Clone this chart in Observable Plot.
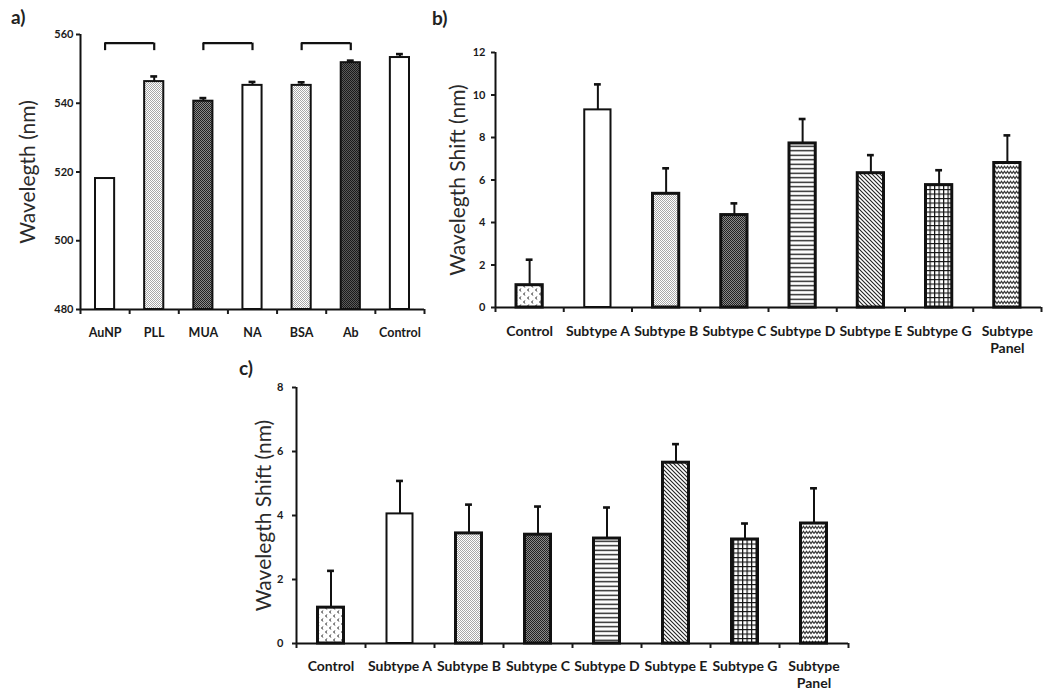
<!DOCTYPE html>
<html>
<head>
<meta charset="utf-8">
<script src="https://cdn.jsdelivr.net/npm/d3@7"></script>
<script src="https://cdn.jsdelivr.net/npm/@observablehq/plot@0.6"></script>
<style>
  body { margin: 0; background: #fff; }
  #root { position: relative; width: 1050px; height: 690px; font-family: Lato, "Open Sans", sans-serif; background: #fff; overflow: hidden; }
  .plabel { position: absolute; font: bold 19px Lato, sans-serif; color: #222; line-height: 19px; }
  g[aria-label$="tick label"] { font-weight: 700; }
</style>
</head>
<body>
<svg width="0" height="0" style="position:absolute">
  <defs>
    <pattern id="pLight" width="2" height="2" patternUnits="userSpaceOnUse">
      <rect width="2" height="2" fill="#fff"/>
      <rect x="0" y="0" width="1" height="1" fill="#a8a8a8"/>
      <rect x="1" y="1" width="1" height="1" fill="#a8a8a8"/>
    </pattern>
    <pattern id="pDark" width="2" height="2" patternUnits="userSpaceOnUse">
      <rect width="2" height="2" fill="#8a8a8a"/>
      <rect x="0" y="0" width="1" height="1" fill="#222"/>
      <rect x="1" y="1" width="1" height="1" fill="#222"/>
    </pattern>
    <pattern id="pAb" width="2" height="2" patternUnits="userSpaceOnUse">
      <rect width="2" height="2" fill="#5a5a5a"/>
      <rect x="0" y="0" width="1" height="1" fill="#1a1a1a"/>
      <rect x="1" y="1" width="1" height="1" fill="#1a1a1a"/>
    </pattern>
    <pattern id="pCtrl" width="8" height="8" patternUnits="userSpaceOnUse">
      <rect width="8" height="8" fill="#fff"/>
      <path d="M3.2,0.6 L1.4,2 L3.2,3.4 M7.2,4.6 L5.4,6 L7.2,7.4" fill="none" stroke="#333" stroke-width="1"/>
    </pattern>
    <pattern id="pHoriz" width="4" height="4.5" patternUnits="userSpaceOnUse">
      <rect width="4" height="4.5" fill="#fff"/>
      <path d="M0,2.25 H4" stroke="#111" stroke-width="1.3"/>
    </pattern>
    <pattern id="pDiag" width="4" height="4" patternUnits="userSpaceOnUse">
      <rect width="4" height="4" fill="#fff"/>
      <path d="M-1,-1 L5,5 M-1,3 L1,5 M3,-1 L5,1" stroke="#222" stroke-width="1.1"/>
    </pattern>
    <pattern id="pGrid" width="4.5" height="4.5" patternUnits="userSpaceOnUse">
      <rect width="4.5" height="4.5" fill="#fff"/>
      <path d="M0,0.6 H4.5 M0.6,0 V4.5" stroke="#111" stroke-width="1.2"/>
    </pattern>
    <pattern id="pZig" width="6" height="5" patternUnits="userSpaceOnUse">
      <rect width="6" height="5" fill="#fff"/>
      <path d="M0,3.6 L1.5,1.2 L3,3.6 L4.5,1.2 L6,3.6" fill="none" stroke="#333" stroke-width="1.1"/>
    </pattern>
  </defs>
</svg>
<div id="root">
  <div class="plabel" style="left:11px; top:7px;">a)</div>
  <div class="plabel" style="left:432px; top:8px;">b)</div>
  <div class="plabel" style="left:239px; top:358px;">c)</div>
</div>
<script>
// ---------- Data ----------
const aCategories = ["AuNP", "PLL", "MUA", "NA", "BSA", "Ab", "Control"];
const aValues = [518.1, 546.3, 540.6, 545.2, 545.2, 551.8, 553.3];
const aErrors = [0, 1.5, 0.9, 1.0, 0.9, 0.6, 1.0];
const aTicks = [480, 500, 520, 540, 560];
const aDomain = [480, 560];
const aBracketPairs = [["AuNP", "PLL"], ["MUA", "NA"], ["BSA", "Ab"]];
const aBracketLevel = 557.5;
const aBracketDrop = 2.2;

const subtypeCategories = ["Control", "Subtype A", "Subtype B", "Subtype C", "Subtype D", "Subtype E", "Subtype G", "Subtype Panel"];

const bValues = [1.05, 9.3, 5.35, 4.35, 7.72, 6.32, 5.76, 6.8];
const bErrors = [1.2, 1.2, 1.2, 0.55, 1.15, 0.85, 0.7, 1.3];
const bTicks = [0, 2, 4, 6, 8, 10, 12];
const bDomain = [0, 12];

const cValues = [1.12, 4.05, 3.44, 3.4, 3.28, 5.65, 3.25, 3.75];
const cErrors = [1.15, 1.03, 0.9, 0.88, 0.97, 0.58, 0.5, 1.1];
const cTicks = [0, 2, 4, 6, 8];
const cDomain = [0, 8];

// ---------- Styles ----------
const aFills = {AuNP: "#fff", PLL: "url(#pLight)", MUA: "url(#pDark)", NA: "#fff", BSA: "url(#pLight)", Ab: "url(#pAb)", Control: "#fff"};
const subFills = {
  "Control": "url(#pCtrl)", "Subtype A": "#fff", "Subtype B": "url(#pLight)", "Subtype C": "url(#pDark)",
  "Subtype D": "url(#pHoriz)", "Subtype E": "url(#pDiag)", "Subtype G": "url(#pGrid)", "Subtype Panel": "url(#pZig)"
};

function panel(o) {
  const n = o.cats.length;
  const rows = o.cats.map((c, i) => ({i, cat: c, value: o.values[i], err: o.errors[i]}));
  const errRows = rows.filter(d => d.err > 0);
  const plot = Plot.plot({
    width: o.width, height: o.height,
    marginLeft: o.ml, marginRight: o.mr, marginTop: o.mt, marginBottom: o.mb,
    style: {background: "transparent", overflow: "visible", fontFamily: "Lato, sans-serif", color: "#1a1a1a"},
    x: {type: "linear", domain: [0, n], label: null},
    y: {domain: o.domain, label: null},
    color: {type: "identity"},
    marks: [
      Plot.rect(rows, {
        x1: "i", x2: d => d.i + 1, y1: o.domain[0], y2: "value",
        insetLeft: o.inset, insetRight: o.inset,
        fill: d => o.fills[d.cat], stroke: "#111",
        strokeWidth: d => o.strokeFor(d.cat)
      }),
      Plot.ruleX(errRows, {x: d => d.i + 0.5, y1: "value", y2: d => d.value + d.err, stroke: "#111", strokeWidth: 2}),
      Plot.ruleY(errRows, {y: d => d.value + d.err, x1: d => d.i + 0.5 - o.cap, x2: d => d.i + 0.5 + o.cap, stroke: "#111", strokeWidth: 2.6}),
      ...(o.extra || []),
      Plot.ruleX([0], {stroke: "#111", strokeWidth: 2}),
      Plot.ruleY([o.domain[0]], {stroke: "#111", strokeWidth: 2}),
      Plot.axisY({ticks: o.ticks, tickSize: 4, tickPadding: o.tickPadY, fontSize: 11, fontWeight: "bold", tickFormat: d3.format("d"), strokeWidth: 2, label: null}),
      Plot.axisX({ticks: d3.range(n + 1), tickSize: 5, tickFormat: () => "", strokeWidth: 2, label: null}),
      Plot.axisX({
        ticks: rows.map(d => d.i + 0.5), tickSize: 0, tickPadding: o.tickPadX,
        tickFormat: v => { const c = o.cats[Math.floor(v)]; return c === "Subtype Panel" ? "Subtype\nPanel" : c; },
        fontSize: o.xFont, fontWeight: "bold", lineHeight: 1.25, label: null
      }),
      Plot.text([o.title], {text: d => d, frameAnchor: "left", textAnchor: "middle", rotate: -90, dx: o.titleDx, lineAnchor: "bottom", fontSize: 21, fill: "#2a2a2a"})
    ]
  });
  plot.style.position = "absolute";
  plot.style.left = o.left + "px";
  plot.style.top = o.top + "px";
  document.getElementById("root").appendChild(plot);
}

// Panel a
panel({
  cats: aCategories, values: aValues, errors: aErrors, ticks: aTicks, domain: aDomain, fills: aFills,
  left: 0, top: 0, width: 430, height: 345, ml: 80, mr: 6, mt: 34, mb: 36,
  inset: 15, cap: 0.07, strokeFor: () => 2, tickPadY: 3, tickPadX: 16, xFont: 12.5,
  title: "Wavelegth (nm)", titleDx: -46,
  extra: [
    Plot.ruleY(aBracketPairs, {y: aBracketLevel, x1: p => aCategories.indexOf(p[0]) + 0.5, x2: p => aCategories.indexOf(p[1]) + 0.5, stroke: "#111", strokeWidth: 2.2}),
    Plot.ruleX(aBracketPairs.flat(), {x: c => aCategories.indexOf(c) + 0.5, y1: aBracketLevel - aBracketDrop, y2: aBracketLevel, stroke: "#111", strokeWidth: 2.2})
  ]
});

// Panel b
panel({
  cats: subtypeCategories, values: bValues, errors: bErrors, ticks: bTicks, domain: bDomain, fills: subFills,
  left: 430, top: 0, width: 620, height: 360, ml: 65, mr: 9, mt: 52, mb: 53,
  inset: 21, cap: 0.05, strokeFor: c => c === "Subtype A" ? 2 : 3, tickPadY: 6, tickPadX: 16, xFont: 14,
  title: "Wavelegth Shift (nm)", titleDx: -31
});

// Panel c
panel({
  cats: subtypeCategories, values: cValues, errors: cErrors, ticks: cTicks, domain: cDomain, fills: subFills,
  left: 220, top: 350, width: 640, height: 340, ml: 76, mr: 12, mt: 37, mb: 47,
  inset: 21.5, cap: 0.05, strokeFor: c => c === "Subtype A" ? 2 : 3, tickPadY: 9, tickPadX: 15, xFont: 14,
  title: "Wavelegth Shift (nm)", titleDx: -26
});
</script>
</body>
</html>
